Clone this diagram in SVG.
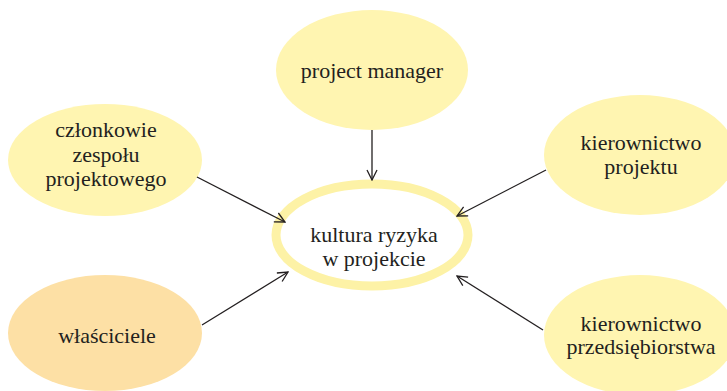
<svg xmlns="http://www.w3.org/2000/svg" width="727" height="391" viewBox="0 0 727 391">
<style>
.y{fill:#FFF5B1}
.o{fill:#FDE0A5}
.t{font-family:"Liberation Serif","Times New Roman",serif;font-size:22px;fill:#231F20;text-anchor:middle}
.c{stroke:#231F20;stroke-width:1.3;fill:none}
</style>
<defs>
<marker id="a" viewBox="0 0 12 12" refX="11" refY="6" markerWidth="12" markerHeight="12" markerUnits="userSpaceOnUse" orient="auto">
<path d="M1,1 L11,6 L1,11" fill="none" stroke="#231F20" stroke-width="1.3"/>
</marker>
</defs>
<rect width="727" height="391" fill="#FFFFFF"/>
<g id="pm">
<ellipse class="y" cx="372" cy="70" rx="96" ry="60"/>
<text class="t" x="372" y="78">project manager</text>
</g>
<g id="czlonkowie">
<ellipse class="y" cx="105" cy="160" rx="97" ry="56"/>
<text class="t" x="106" y="137">członkowie</text>
<text class="t" x="106" y="162">zespołu</text>
<text class="t" x="106" y="186">projektowego</text>
</g>
<g id="kier-proj">
<ellipse class="y" cx="640" cy="155" rx="96" ry="60"/>
<text class="t" x="641" y="150">kierownictwo</text>
<text class="t" x="641" y="174">projektu</text>
</g>
<g id="wlasciciele">
<ellipse class="o" cx="105" cy="333" rx="97" ry="58"/>
<text class="t" x="107" y="343">właściciele</text>
</g>
<g id="kier-przed">
<ellipse class="y" cx="640" cy="335" rx="96" ry="60"/>
<text class="t" x="641" y="331">kierownictwo</text>
<text class="t" x="641" y="354">przedsiębiorstwa</text>
</g>
<g id="centrum">
<ellipse cx="372" cy="235" rx="96" ry="51" fill="#FFFFFF" stroke="#FDF2A6" stroke-width="9"/>
<text class="t" x="374" y="242">kultura ryzyka</text>
<text class="t" x="374" y="266">w projekcie</text>
</g>
<g id="connectors">
<line class="c" x1="372" y1="130" x2="372" y2="180" marker-end="url(#a)"/>
<line class="c" x1="197" y1="177" x2="285" y2="222" marker-end="url(#a)"/>
<line class="c" x1="202" y1="325" x2="288" y2="272" marker-end="url(#a)"/>
<line class="c" x1="546" y1="170" x2="457" y2="216" marker-end="url(#a)"/>
<line class="c" x1="543" y1="330" x2="457" y2="276" marker-end="url(#a)"/>
</g>
</svg>
